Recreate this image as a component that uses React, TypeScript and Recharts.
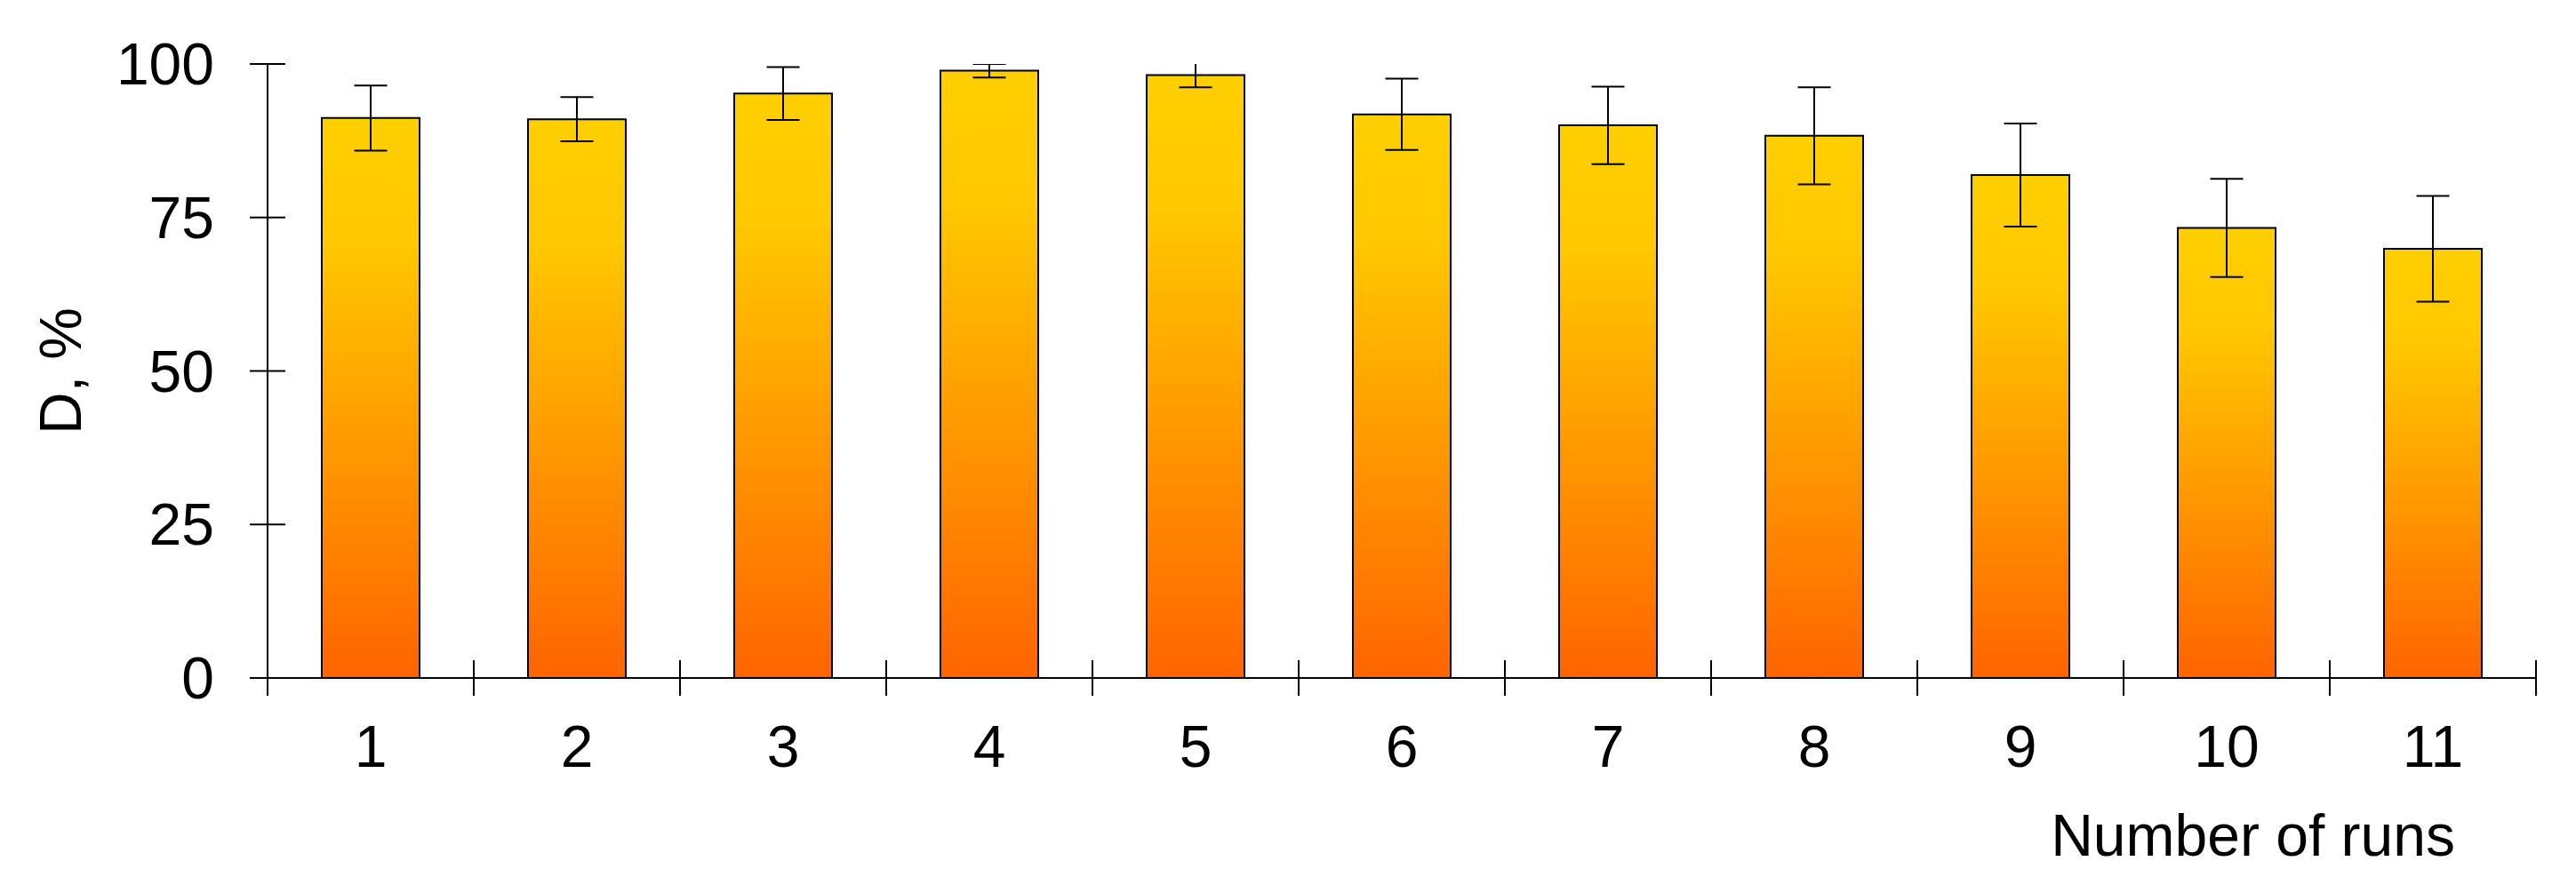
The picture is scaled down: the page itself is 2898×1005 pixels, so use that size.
import { Bar, BarChart, ErrorBar, XAxis, YAxis } from "recharts"

const runs = ["1", "2", "3", "4", "5", "6", "7", "8", "9", "10", "11"]
const dValues = [91.2, 91.0, 95.2, 98.9, 98.2, 91.8, 90.0, 88.3, 81.9, 73.3, 69.9]
const dErrors: [number, number][] = [
  [5.3, 5.3],
  [3.6, 3.6],
  [4.3, 4.3],
  [1.1, 1.1],
  [2.0, 3.0],
  [5.8, 5.8],
  [6.3, 6.3],
  [7.9, 7.9],
  [8.4, 8.4],
  [8.0, 8.0],
  [8.6, 8.6],
]
const yTicks = [0, 25, 50, 75, 100]

const data = runs.map((run, i) => ({ run, d: dValues[i], err: dErrors[i] }))

const FONT = "'Liberation Sans', Arial, sans-serif"
const TOP = 72
const LINE = 2

const YTick = (props: any) => {
  const { x, y, payload } = props
  return (
    <g>
      <line x1={x - 20} x2={x + 20} y1={y} y2={y} stroke="#000" strokeWidth={LINE} />
      <text x={x - 60} y={y + 23} textAnchor="end" fontSize={66} fontFamily={FONT} fill="#000">
        {payload.value}
      </text>
    </g>
  )
}

// category label plus the tick marks on the category boundaries
const RunTick = (props: any) => {
  const { x, y, payload, index, visibleTicksCount } = props
  const half = payload.offset || 0
  const last = index === (visibleTicksCount ?? runs.length) - 1
  return (
    <g>
      <line x1={x - half} x2={x - half} y1={index === 0 ? y : y - 20} y2={y + 20} stroke="#000" strokeWidth={LINE} />
      {last && <line x1={x + half} x2={x + half} y1={y - 20} y2={y + 20} stroke="#000" strokeWidth={LINE} />}
      <text x={x} y={y + 100} textAnchor="middle" fontSize={66} fontFamily={FONT} fill="#000">
        {payload.value}
      </text>
    </g>
  )
}

export default function App() {
  return (
    <div style={{ position: "absolute", left: 0, top: 0, background: "#fff" }}>
      <BarChart width={2898} height={1005} data={data} margin={{ top: TOP, right: 45, bottom: 0, left: 0 }}>
        <defs>
          <linearGradient id="barFill" x1="0" y1="0" x2="0" y2="1">
            <stop offset="0%" stopColor="#ffcf00" />
            <stop offset="22%" stopColor="#ffc800" />
            <stop offset="100%" stopColor="#ff6400" />
          </linearGradient>
          <clipPath id="plotTop" clipPathUnits="userSpaceOnUse">
            <rect x={0} y={TOP} width={2898} height={1005} />
          </clipPath>
        </defs>
        <XAxis
          dataKey="run"
          height={242}
          axisLine={{ stroke: "#000", strokeWidth: LINE }}
          tickLine={false}
          tickSize={0}
          tickMargin={0}
          tick={RunTick}
          interval={0}
          label={{
            content: (p: any) => {
              const vb = p.viewBox
              return (
                <text x={vb.x + vb.width - 91} y={vb.y + 200} textAnchor="end" fontSize={66} fontFamily={FONT} fill="#000">
                  Number of runs
                </text>
              )
            },
          }}
        />
        <YAxis
          width={301}
          domain={[0, 100]}
          ticks={yTicks}
          allowDataOverflow
          axisLine={{ stroke: "#000", strokeWidth: LINE }}
          tickLine={false}
          tickSize={0}
          tickMargin={0}
          tick={YTick}
          interval={0}
          label={{
            content: (p: any) => {
              const vb = p.viewBox
              const cx = 91
              const cy = vb.y + vb.height / 2
              return (
                <text
                  x={cx}
                  y={cy}
                  transform={`rotate(-90 ${cx} ${cy})`}
                  textAnchor="middle"
                  fontSize={66}
                  fontFamily={FONT}
                  fill="#000"
                >
                  D, %
                </text>
              )
            },
          }}
        />
        <Bar dataKey="d" barSize={110} fill="url(#barFill)" stroke="#000" strokeWidth={LINE} isAnimationActive={false}>
          <ErrorBar
            dataKey="err"
            width={18.5}
            stroke="#000"
            strokeWidth={LINE}
            direction="y"
            clipPath="url(#plotTop)"
            isAnimationActive={false}
          />
        </Bar>
      </BarChart>
    </div>
  )
}
